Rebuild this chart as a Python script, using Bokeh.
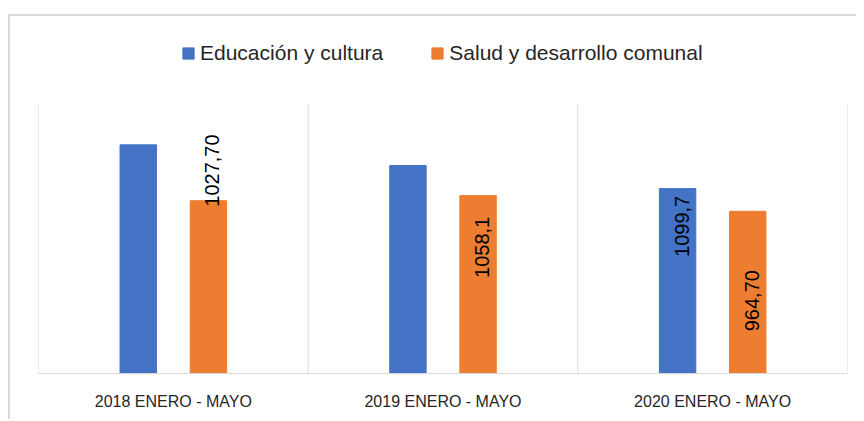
import math
from bokeh.plotting import figure
from bokeh.models import (ColumnDataSource, FactorRange, Range1d,
                          Legend, LegendItem)
from bokeh.transform import dodge
from bokeh.core.properties import value
from bokeh.embed import file_html
from bokeh.resources import INLINE

# ---- data ----
categories = ["2018 ENERO - MAYO", "2019 ENERO - MAYO", "2020 ENERO - MAYO"]
series_names = ["Educación y cultura", "Salud y desarrollo comunal"]
educacion = [1360, 1237, 1099.7]
salud = [1027.7, 1058.1, 964.7]
educacion_labels = ["", "", "1099,7"]
salud_labels = ["1027,70", "1058,1", "964,70"]
# where each data label's centre sits (value units), as placed in the original
educacion_label_pos = [None, None, 875]
salud_label_pos = [1207, 750, 433]
axis_max = 1600

BLUE = "#4472C4"
ORANGE = "#ED7D31"
GRID = "#D9D9D9"
FONT = "Liberation Sans"

# layout (pixels)
FIG_W, FIG_H = 848, 405
BORDER_BOTTOM = 46
FRAME_H = FIG_H - BORDER_BOTTOM      # frame spans the full top area (legend lives inside)
PLOT_H = 269                         # height of the value area (0..axis_max)

src = ColumnDataSource(dict(cat=categories, educacion=educacion, salud=salud))


def label_source(labels, pos):
    keep = [i for i, t in enumerate(labels) if t]
    return ColumnDataSource(dict(cat=[categories[i] for i in keep],
                                 pos=[pos[i] for i in keep],
                                 text=[labels[i] for i in keep]))


p = figure(x_range=FactorRange(*categories, range_padding=0),
           y_range=Range1d(0, axis_max * FRAME_H / PLOT_H),
           width=FIG_W, height=FIG_H,
           output_backend="svg", toolbar_location=None,
           min_border_left=30, min_border_right=9,
           min_border_top=0, min_border_bottom=BORDER_BOTTOM,
           border_fill_color=None, background_fill_color=None,
           outline_line_color=None)
p.margin = (14, 0, 0, 8)
p.styles = {"box-shadow": "inset 2px 2px 0 0 #D9D9D9"}
p.stylesheets = ['text[font-size="16px"] { letter-spacing: 3px; }']

p.xgrid.visible = False
p.ygrid.visible = False
p.yaxis.visible = False

ax = p.xaxis[0]
ax.axis_line_color = GRID
ax.axis_line_width = 1
ax.major_tick_line_color = None
ax.minor_tick_line_color = None
ax.major_tick_out = 0
ax.major_tick_in = 0
ax.major_label_standoff = 19
ax.major_label_text_font = FONT
ax.major_label_text_font_size = "16px"
ax.major_label_text_color = "#262626"

# vertical separators between categories, from 0 up to the axis maximum
bounds = list(range(len(categories) + 1))
p.segment(x0=bounds, x1=bounds, y0=[0] * len(bounds), y1=[axis_max] * len(bounds),
          line_color=GRID, line_width=1)

r1 = p.vbar(x=dodge("cat", -0.13, range=p.x_range), top="educacion",
            width=0.135, source=src, fill_color=BLUE, line_color=BLUE)
r2 = p.vbar(x=dodge("cat", 0.13, range=p.x_range), top="salud",
            width=0.135, source=src, fill_color=ORANGE, line_color=ORANGE)

for labels, pos, off in [(educacion_labels, educacion_label_pos, -0.13),
                         (salud_labels, salud_label_pos, 0.13)]:
    p.text(x=dodge("cat", off, range=p.x_range), y="pos", text="text",
           source=label_source(labels, pos), angle=math.pi / 2,
           text_align="center", text_baseline="middle",
           text_font=value(FONT), text_font_size=value("20px"),
           text_color="#000000", x_offset=4)

legend = Legend(items=[LegendItem(label=series_names[0], renderers=[r1]),
                       LegendItem(label=series_names[1], renderers=[r2])],
                orientation="horizontal", location=(143, 307),
                glyph_width=14, glyph_height=14, label_standoff=5,
                label_height=26,
                spacing=47, padding=0, margin=0,
                border_line_color=None, background_fill_color=None,
                label_text_font=FONT, label_text_font_size="21px",
                label_text_color="#262626")
p.add_layout(legend)

open("out.html", "w").write(file_html(p, INLINE))
